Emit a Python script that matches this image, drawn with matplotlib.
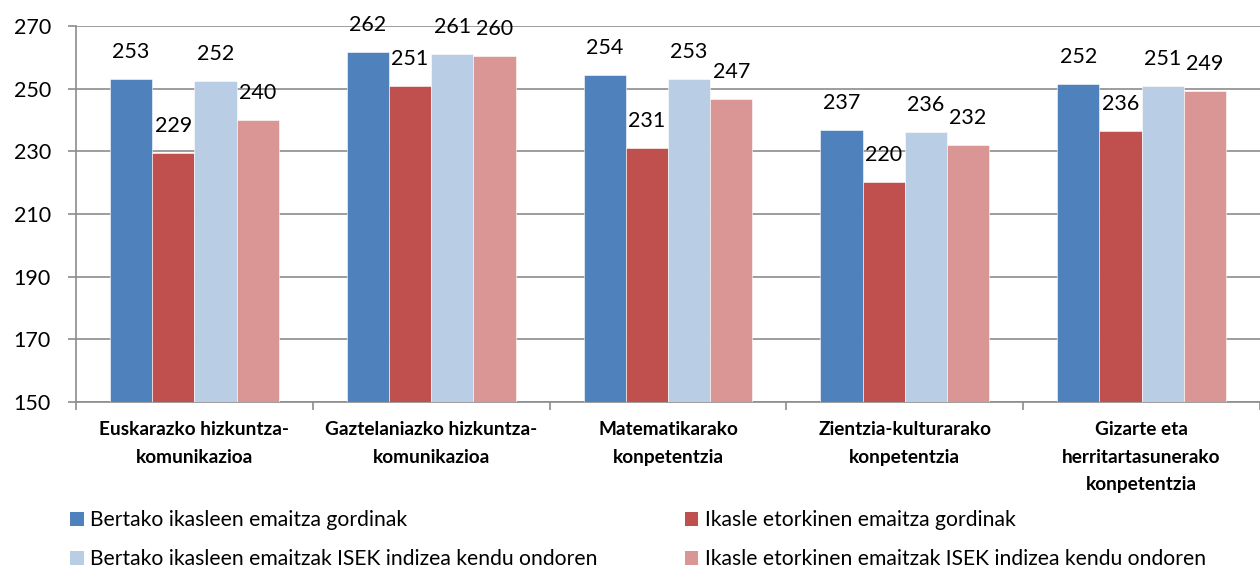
import matplotlib
matplotlib.use("Agg")
import matplotlib.pyplot as plt
import numpy as np
from matplotlib.patches import Patch

plt.rcParams['font.family'] = ['Lato', 'DejaVu Sans']

categories = ["Euskarazko hizkuntza-\nkomunikazioa",
              "Gaztelaniazko hizkuntza-\nkomunikazioa",
              "Matematikarako\nkonpetentzia",
              "Zientzia-kulturarako\nkonpetentzia",
              "Gizarte eta\nherritartasunerako\nkonpetentzia"]
series_names = ["Bertako ikasleen emaitza gordinak",
                "Ikasle etorkinen emaitza gordinak",
                "Bertako ikasleen emaitzak ISEK indizea kendu ondoren",
                "Ikasle etorkinen emaitzak ISEK indizea kendu ondoren"]
bertako_gordinak = [253.1, 261.7, 254.4, 236.8, 251.6]
etorkin_gordinak = [229.4, 251.0, 231.1, 220.2, 236.4]
bertako_isek = [252.4, 261.1, 253.1, 236.2, 250.9]
etorkin_isek = [240.0, 260.4, 246.7, 232.0, 249.3]
yticks = [150, 170, 190, 210, 230, 250, 270]

colors = ["#4F81BD", "#C0504D", "#B9CDE5", "#D99694"]
series = [bertako_gordinak, etorkin_gordinak, bertako_isek, etorkin_isek]

W, H = 1260, 570
fig = plt.figure(figsize=(W / 100, H / 100), dpi=100)
left_px, right_px, top_px, bot_px = 76, 1260, 26, 402
ax = fig.add_axes([left_px / W, 1 - bot_px / H, (right_px - left_px) / W, (bot_px - top_px) / H])

cat_w = 239.0
bw = 42.6 / cat_w
x = np.arange(len(categories))
for i, (vals, c) in enumerate(zip(series, colors)):
    pos = x + (i - 1.5) * bw
    ax.bar(pos, [v - 150 for v in vals], bottom=150, width=bw, color=c,
           edgecolor='white', linewidth=0.4, zorder=3)
    for p, v in zip(pos, vals):
        ax.annotate(f"{v:.0f}", xy=(p, v), xytext=(0, 15), textcoords='offset points',
                    ha='center', va='baseline', fontsize=15.5, color='black',
                    zorder=5, annotation_clip=False)

ax.set_ylim(150, 270)
ax.set_xlim(-0.5, -0.5 + (right_px - left_px) / cat_w)
ax.set_yticks(yticks)
ax.set_yticklabels([str(t) for t in yticks], fontsize=15.5)
ax.yaxis.grid(True, color='#8C8C8C', linewidth=1.2, zorder=0)
ax.set_axisbelow(True)

ax.set_xticks(np.arange(-0.5, len(categories) + 0.5, 1.0))
ax.set_xticklabels([])
ax.set_xticks(x, minor=True)
ax.set_xticklabels(categories, minor=True, fontsize=13.7, fontweight='bold',
                   linespacing=1.72, va='top')
ax.tick_params(axis='x', which='minor', length=0, pad=14)
ax.tick_params(axis='x', which='major', length=6, width=1.2, color='#8C8C8C', direction='out')
ax.tick_params(axis='y', length=6, width=1.2, color='#8C8C8C', pad=12)

for s in ['top', 'right']:
    ax.spines[s].set_visible(False)
for s in ['left', 'bottom']:
    ax.spines[s].set_color('#8C8C8C')
    ax.spines[s].set_linewidth(1.2)

handles = [Patch(facecolor=c, edgecolor='none') for c in colors]
order = [0, 2, 1, 3]
fig.legend([handles[i] for i in order], [series_names[i] for i in order],
           ncol=2, loc='upper left', bbox_to_anchor=(62 / W, 1 - 502 / H),
           frameon=False, fontsize=15.2, handlelength=0.65, handleheight=0.65,
           handletextpad=0.3, columnspacing=4.1, labelspacing=0.9, borderaxespad=0)

fig.savefig("out.png", dpi=100)
